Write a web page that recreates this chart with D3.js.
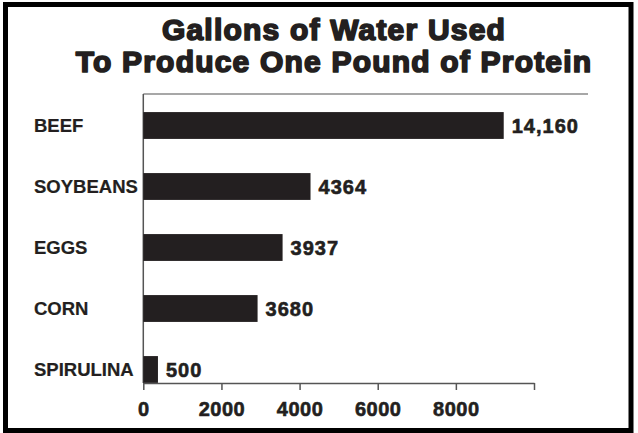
<!DOCTYPE html>
<html>
<head>
<meta charset="utf-8">
<script src="https://cdn.jsdelivr.net/npm/d3@7"></script>
<style>
  html, body { margin: 0; padding: 0; background: #fff; }
  svg { display: block; }
</style>
</head>
<body>
<script>
// data
const categories = ["BEEF", "SOYBEANS", "EGGS", "CORN", "SPIRULINA"];
const barValues = [9225, 4280, 3565, 2925, 375]; // bar lengths as drawn against the axis
const labelValues = ["14,160", "4364", "3937", "3680", "500"]; // printed numbers
const tickValues = [0, 2000, 4000, 6000, 8000, 10000];
const tickLabels = ["0", "2000", "4000", "6000", "8000", ""];
const titleLines = ["Gallons of Water Used", "To Produce One Pound of Protein"];

const width = 638;
const height = 433;
const ink = "#231f20";
const font = "'Liberation Sans', Arial, Helvetica, sans-serif";

const plotLeft = 143.3;
const plotTop = 94;
const axisY = 383;

const svg = d3
  .select("body")
  .append("svg")
  .attr("width", width)
  .attr("height", height)
  .attr("viewBox", [0, 0, width, height]);

// outer frame
svg
  .append("rect")
  .attr("x", 5.5)
  .attr("y", 4.5)
  .attr("width", 625.5)
  .attr("height", 426)
  .attr("fill", "#fff")
  .attr("stroke", "#000")
  .attr("stroke-width", 5);

// title, stroked to get the heavy look
svg
  .append("g")
  .attr("font-family", font)
  .attr("font-weight", "bold")
  .attr("font-size", 30)
  .attr("letter-spacing", "1.2px")
  .attr("text-anchor", "middle")
  .attr("fill", ink)
  .attr("stroke", ink)
  .attr("stroke-width", 1.7)
  .attr("stroke-linejoin", "round")
  .selectAll("text")
  .data(titleLines)
  .join("text")
  .attr("x", 334)
  .attr("y", (d, i) => 39.5 + i * 32.2)
  .text((d) => d);

const x = d3.scaleLinear().domain([0, 10000]).range([plotLeft, 534]);
const y = d3
  .scaleBand()
  .domain(categories)
  .range([95, 400])
  .paddingInner(0.56)
  .paddingOuter(0.28);

// top rule and left axis line
svg
  .append("line")
  .attr("x1", plotLeft)
  .attr("x2", 588)
  .attr("y1", plotTop)
  .attr("y2", plotTop)
  .attr("stroke", "#8a8a8a")
  .attr("stroke-width", 1.5);
svg
  .append("line")
  .attr("x1", plotLeft)
  .attr("x2", plotLeft)
  .attr("y1", plotTop)
  .attr("y2", axisY)
  .attr("stroke", "#555")
  .attr("stroke-width", 1.5);

// bars
svg
  .append("g")
  .attr("fill", ink)
  .selectAll("rect")
  .data(categories)
  .join("rect")
  .attr("x", x(0))
  .attr("y", (d) => y(d))
  .attr("width", (d, i) => x(barValues[i]) - x(0))
  .attr("height", y.bandwidth());

// category labels
svg
  .append("g")
  .attr("font-family", font)
  .attr("font-weight", "bold")
  .attr("font-size", 18.5)
  .attr("fill", ink)
  .attr("stroke", ink)
  .attr("stroke-width", 0.2)
  .selectAll("text")
  .data(categories)
  .join("text")
  .attr("x", 34)
  .attr("y", (d) => y(d) + y.bandwidth() / 2 + 6.5)
  .text((d) => d);

// value labels
svg
  .append("g")
  .attr("font-family", font)
  .attr("font-weight", "bold")
  .attr("font-size", 20)
  .attr("letter-spacing", "1px")
  .attr("fill", ink)
  .attr("stroke", ink)
  .attr("stroke-width", 0.6)
  .selectAll("text")
  .data(categories)
  .join("text")
  .attr("x", (d, i) => x(barValues[i]) + 8)
  .attr("y", (d) => y(d) + y.bandwidth() / 2 + 7)
  .text((d, i) => labelValues[i]);

// x axis
const xAxis = d3
  .axisBottom(x)
  .tickValues(tickValues)
  .tickFormat((d, i) => tickLabels[i])
  .tickSize(7)
  .tickSizeOuter(0)
  .tickPadding(12);

svg
  .append("g")
  .attr("transform", `translate(0,${axisY})`)
  .call(xAxis)
  .call((g) => g.select(".domain").attr("stroke", "#555").attr("stroke-width", 1.5))
  .call((g) => g.selectAll(".tick line").attr("stroke", "#555").attr("stroke-width", 1.5))
  .call((g) =>
    g
      .selectAll(".tick text")
      .attr("font-family", font)
      .attr("font-weight", "bold")
      .attr("font-size", 20)
      .attr("letter-spacing", "0.5px")
      .attr("fill", ink)
      .attr("stroke", ink)
      .attr("stroke-width", 0.6)
  );
</script>
</body>
</html>
